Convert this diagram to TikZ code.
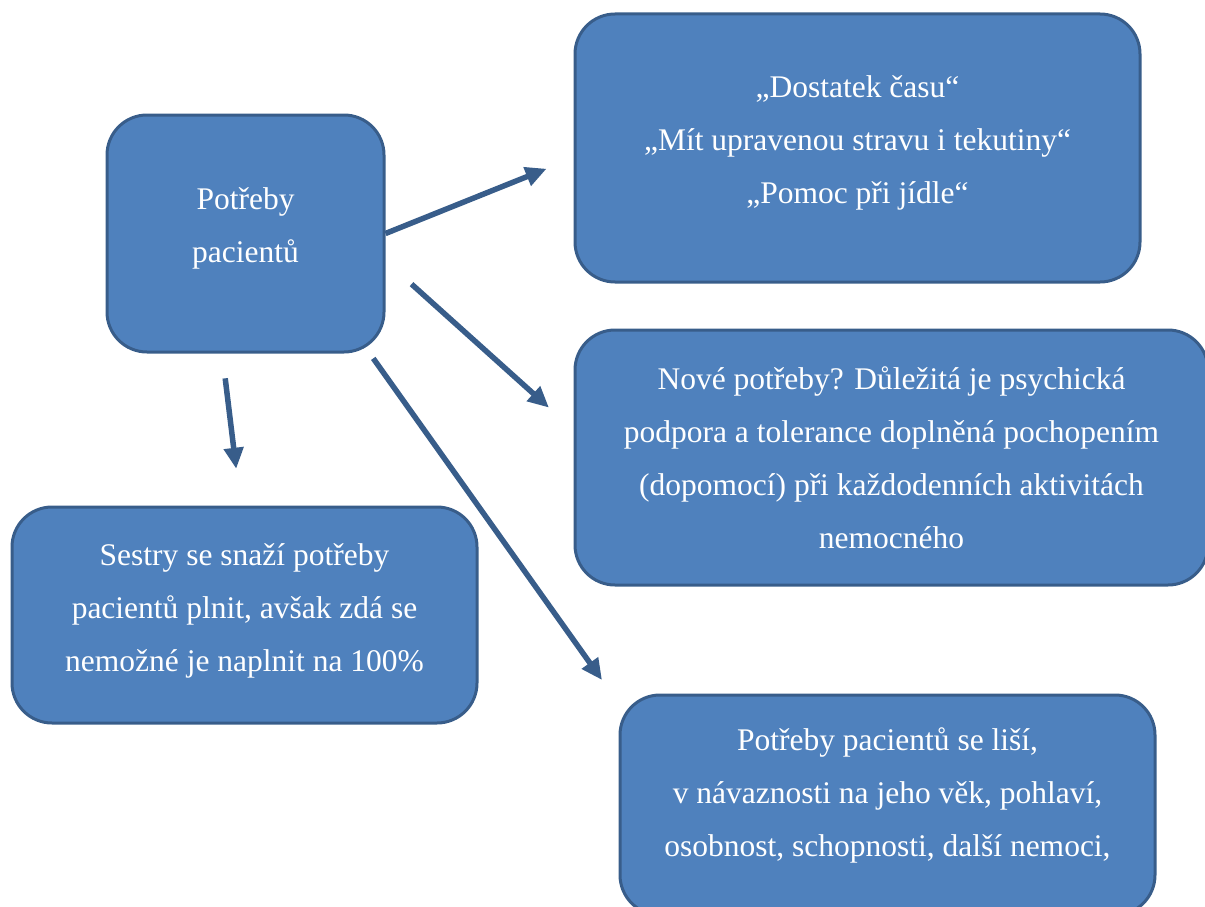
\documentclass[tikz,border=0pt]{standalone}
\usepackage{fontspec}
\setmainfont{Liberation Serif}
\usetikzlibrary{arrows.meta}
\definecolor{boxfill}{RGB}{79,129,189}
\definecolor{boxline}{RGB}{56,93,138}

\begin{document}
\begin{tikzpicture}[
	x = 1pt, y = -1pt, % one unit per pixel, y down
	> = {Triangle[length=21pt,width=19pt]}, % arrow head style
	line width = 5.5pt, % line style
	font=\fontsize{31.5}{53}\selectfont
	]
	
	\tikzstyle{need}=[
	draw = boxline,
	fill = boxfill,
	line width = 3pt,
	rounded corners = 40pt,
	text = white,
	align = center,
	inner sep = 0pt
	]
	
	\useasboundingbox (0,0) rectangle (1205,907);
	
	\node[need, minimum width=277pt, minimum height=237pt, text depth=16pt] (qPot) at (245.5,233.5) {Potřeby\\pacientů};
	\node[need, minimum width=565pt, minimum height=268pt, text depth=16pt] (qCas) at (857.5,148) {„Dostatek času“\\„Mít upravenou stravu i tekutiny“\\„Pomoc při jídle“};
	\node[need, minimum width=633pt, minimum height=255pt] (qPsy) at (891.5,457.5) {Nové potřeby? Důležitá je psychická\\podpora a tolerance doplněná pochopením\\(dopomocí) při každodenních aktivitách\\nemocného};
	\node[need, minimum width=465pt, minimum height=216pt, text depth=15pt] (qSes) at (244.5,615) {Sestry se snaží potřeby\\pacientů plnit, avšak zdá se\\nemožné je naplnit na 100\%};
	\node[need, minimum width=535pt, minimum height=220pt, text depth=25pt] (qLis) at (887.5,805) {Potřeby pacientů se liší,\\v návaznosti na jeho věk, pohlaví,\\osobnost, schopnosti, další nemoci,};
	\coordinate (t3) at (602,680);
	
	\path[->, boxline]
	(qPot.east) 	edge [shorten >=29pt] (qCas.182)
	(qPot.-11.6) 	edge [shorten <=35pt, shorten >=33pt] (qPsy.175.4)
	(qPot.-44.4) 	edge [shorten <=6pt] (t3)
	(qPot.-101.1) 	edge [shorten <=25pt, shorten >=37pt] (qSes.92.9);
	
\end{tikzpicture}
\end{document}
